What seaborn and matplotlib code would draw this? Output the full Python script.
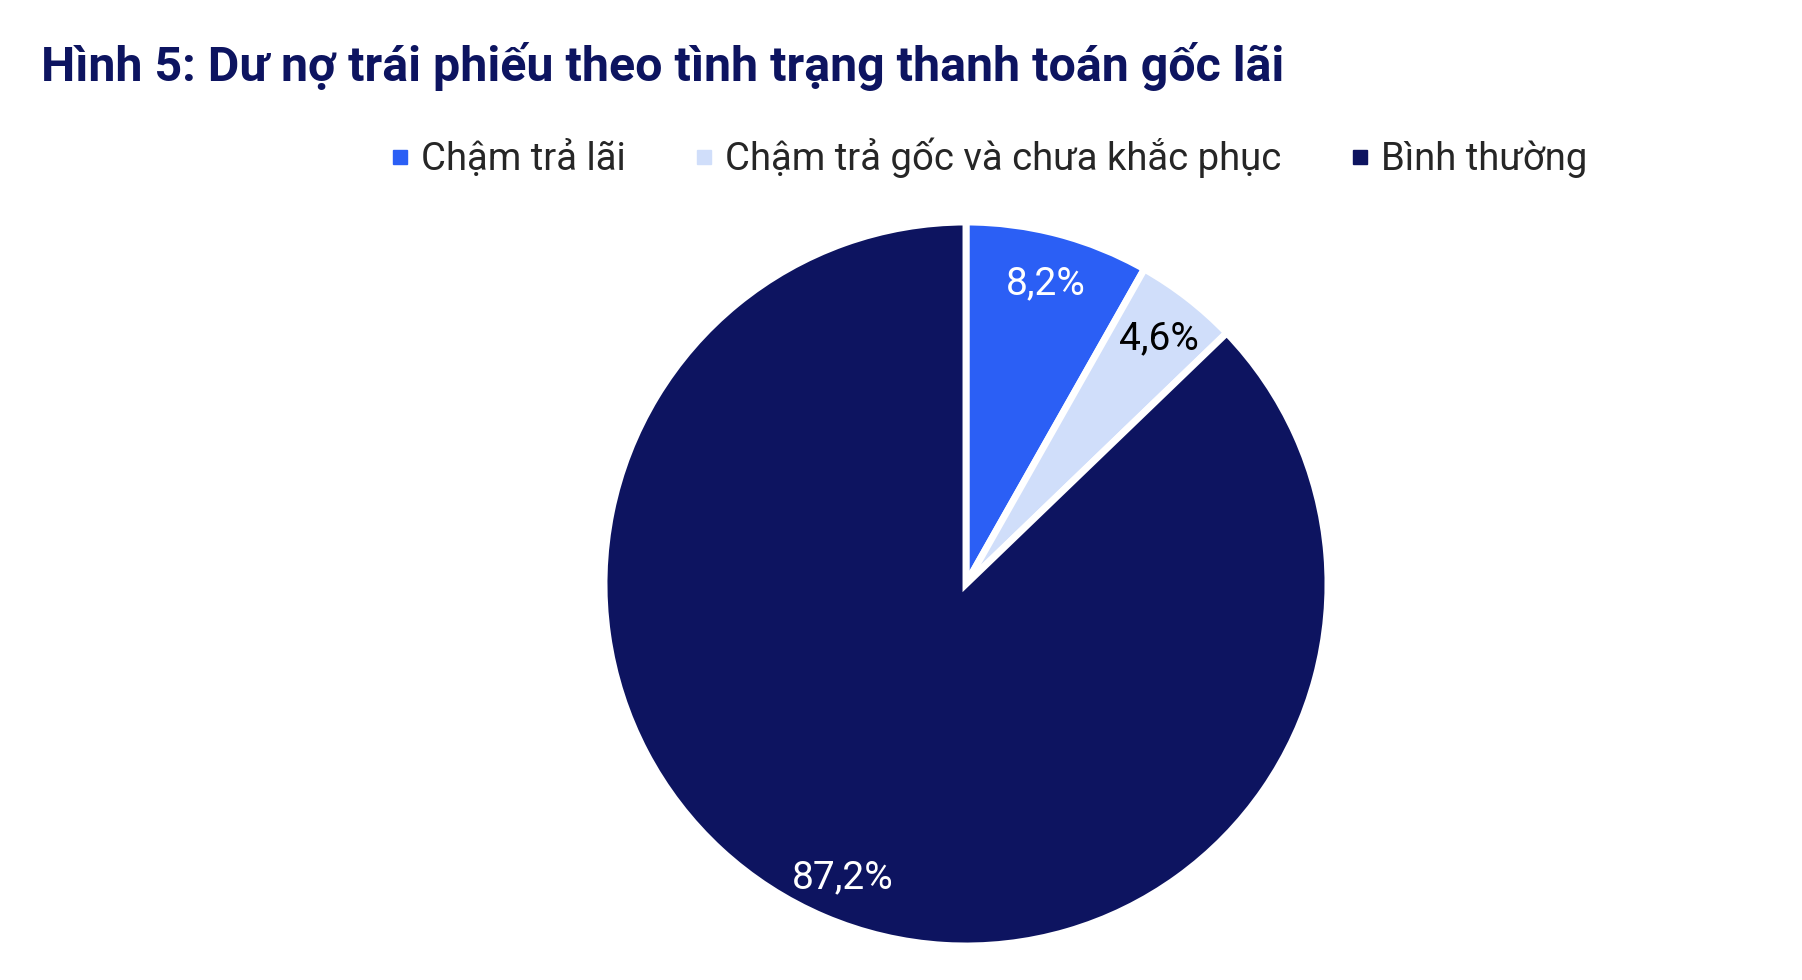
import matplotlib
matplotlib.use("Agg")
import matplotlib.pyplot as plt
from matplotlib.lines import Line2D
import numpy as np
import seaborn as sns

# Data
labels = ["Chậm trả lãi", "Chậm trả gốc và chưa khắc phục", "Bình thường"]
shares = [8.2, 4.6, 87.2]
pct_text = ["8,2%", "4,6%", "87,2%"]

colors = ["#2B5FF5", "#D0DEFA", "#0D1460"]
label_colors = ["white", "black", "white"]
title_color = "#0D1460"

sns.set_theme(style="white")
plt.rcParams["font.family"] = ["Roboto", "DejaVu Sans"]

W, H = 1802, 980
fig = plt.figure(figsize=(W / 100, H / 100), dpi=100)

# pie axes, square area in pixels
cx, cy, r = 966, 584, 362
ax = fig.add_axes([(cx - r) / W, (H - cy - r) / H, 2 * r / W, 2 * r / H])

wedges, _ = ax.pie(
    shares,
    colors=colors,
    startangle=90,
    counterclock=False,
    radius=1.0,
    wedgeprops=dict(edgecolor="white", linewidth=5),
)
ax.set_xlim(-1, 1)
ax.set_ylim(-1, 1)
ax.set_aspect("equal")
ax.axis("off")

# percentage labels placed along each wedge's mid angle
for w, txt, col in zip(wedges, pct_text, label_colors):
    mid = np.deg2rad((w.theta1 + w.theta2) / 2)
    d = 0.87
    ax.text(d * np.cos(mid), d * np.sin(mid), txt, color=col,
            fontsize=28, ha="center", va="center_baseline")

fig.text(41 / W, 1 - 81 / H, "Hình 5: Dư nợ trái phiếu theo tình trạng thanh toán gốc lãi",
         fontsize=34.8, fontweight="bold", color=title_color, ha="left", va="baseline")

handles = [Line2D([], [], marker="s", linestyle="none", markersize=10,
                  markerfacecolor=c, markeredgecolor=c) for c in colors]
fig.legend(handles, labels, loc="center", ncol=3, frameon=False,
           bbox_to_anchor=(988 / W, 1 - 158 / H), fontsize=27.5,
           handlelength=0.6, handletextpad=0.25, columnspacing=1.75)

fig.savefig("out.png", dpi=100, facecolor="white")
